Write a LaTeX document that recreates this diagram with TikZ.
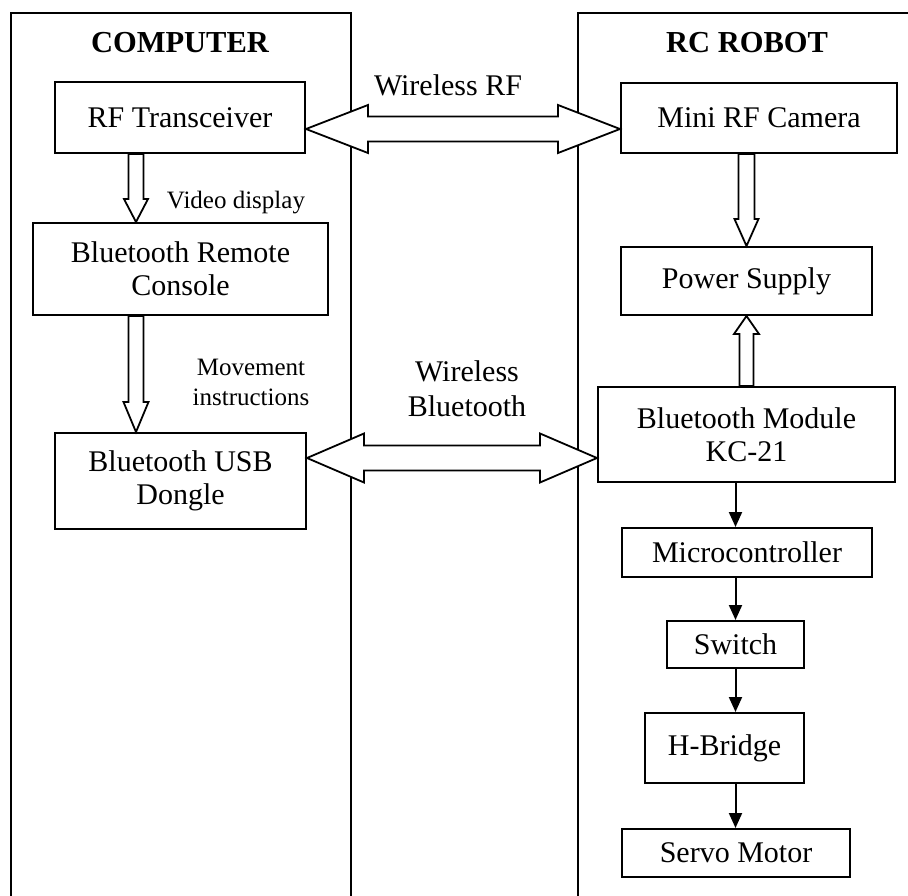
\documentclass[tikz,border=0pt]{standalone}
\usepackage{fontspec}
\setmainfont{Liberation Serif}
\usetikzlibrary{calc,arrows.meta}

% single hollow block arrow: #1 tail, #2 tip, #3 half shaft width, #4 half head width, #5 head length
\newcommand\hollowarrow[5]{%
  \coordinate (arrneck) at ($(#2)!#5!(#1)$);
  \draw[hollow] ($(#1)!#3!90:(#2)$) -- ($(arrneck)!#3!90:(#2)$) -- ($(arrneck)!#4!90:(#2)$)
    -- (#2) -- ($(arrneck)!#4!-90:(#2)$) -- ($(arrneck)!#3!-90:(#2)$) -- ($(#1)!#3!-90:(#2)$) -- cycle;
}
% double-headed hollow block arrow between tips #1 and #2
\newcommand\hollowdouble[5]{%
  \coordinate (dblneckA) at ($(#1)!#5!(#2)$);
  \coordinate (dblneckB) at ($(#2)!#5!(#1)$);
  \draw[hollow] (#1) -- ($(dblneckA)!#4!90:(#2)$) -- ($(dblneckA)!#3!90:(#2)$) -- ($(dblneckB)!#3!-90:(#1)$)
    -- ($(dblneckB)!#4!-90:(#1)$) -- (#2) -- ($(dblneckB)!#4!90:(#1)$) -- ($(dblneckB)!#3!90:(#1)$)
    -- ($(dblneckA)!#3!-90:(#2)$) -- ($(dblneckA)!#4!-90:(#2)$) -- cycle;
}

\tikzset{
  frame/.style={draw, line width=2pt, inner sep=0pt, anchor=north west},
  box/.style={draw, line width=2pt, inner sep=0pt, align=center,
    font=\fontsize{30}{33}\selectfont},
  title/.style={font=\fontsize{30.5}{34}\selectfont\bfseries},
  lbl/.style={align=center, font=\fontsize{30}{35}\selectfont},
  small/.style={align=center, font=\fontsize{25}{30}\selectfont},
  hollow/.style={draw, fill=white, line width=1.8pt, line join=miter},
  flow/.style={line width=2pt, -{Triangle[length=15pt,width=13pt]}}
}

\begin{document}
\begin{tikzpicture}[x=1pt, y=-1pt]
\clip (0,0) rectangle (908,896);
\fill[white] (0,0) rectangle (908,896);

% the two sides
\node[frame, minimum width=340pt, minimum height=900pt] (compframe) at (10,12) {};
\node[frame, minimum width=340pt, minimum height=900pt] (robotframe) at (577,12) {};
\node[title] (comptitle) at (180,43) {COMPUTER};
\node[title] (robottitle) at (747,43) {RC ROBOT};

% computer side
\node[box, minimum width=250pt, minimum height=71pt] (rf) at (180,117.5) {RF Transceiver};
\node[box, minimum width=295pt, minimum height=92pt] (brc) at (180.5,269) {Bluetooth Remote\\Console};
\node[box, minimum width=251pt, minimum height=96pt] (usb) at (180.5,481) {Bluetooth USB\\Dongle};

% robot side
\node[box, minimum width=276pt, minimum height=70pt] (cam) at (759,118) {Mini RF Camera};
\node[box, minimum width=251pt, minimum height=68pt] (pwr) at (746.5,281) {Power Supply};
\node[box, minimum width=297pt, minimum height=95pt] (btm) at (746.5,434.5) {Bluetooth Module\\KC-21};
\node[box, minimum width=250pt, minimum height=49pt] (mcu) at (747,552.5) {Microcontroller};
\node[box, minimum width=137pt, minimum height=47pt] (sw) at (735.5,644.5) {Switch};
\node[box, minimum width=159pt, minimum height=70pt] (hbr) at (724.5,748) {H-Bridge};
\node[box, minimum width=228pt, minimum height=48pt] (servo) at (736,853) {Servo Motor};

% labels
\node[lbl] (lrf) at (448,85) {Wireless RF};
\node[lbl] (lbt) at (467,389) {Wireless\\Bluetooth};
\node[small] (lvid) at (236,203) {Video display};
\node[small] (lmov) at (251,382) {Movement\\instructions};

% hollow data arrows on the computer side
\coordinate (vx) at ($(rf.south)+(-44,0)$);
\hollowarrow{vx}{vx |- brc.north}{7.5pt}{12pt}{23pt}
\hollowarrow{vx |- brc.south}{vx |- usb.north}{7.5pt}{12.5pt}{30pt}

% hollow arrows on the robot side
\hollowarrow{pwr.north |- cam.south}{pwr.north}{8pt}{12pt}{27pt}
\hollowarrow{btm.north}{pwr.south}{7pt}{12.5pt}{18pt}

% wireless links
\coordinate (rfl) at ($(rf.east)+(0,11.5)$);
\coordinate (rfr) at (cam.west |- rfl);
\hollowdouble{rfl}{rfr}{12.5pt}{24pt}{62pt}
\coordinate (btl) at ($(usb.east)+(0,-23)$);
\coordinate (btr) at (btm.west |- btl);
\hollowdouble{btl}{btr}{12.5pt}{24.5pt}{57pt}

% control chain
\draw[flow] (btm.south -| sw.north) -- (mcu.north -| sw.north);
\draw[flow] (mcu.south -| sw.north) -- (sw.north);
\draw[flow] (sw.south) -- (hbr.north -| sw.south);
\draw[flow] (hbr.south -| sw.south) -- (servo.north -| sw.south);
\end{tikzpicture}
\end{document}
